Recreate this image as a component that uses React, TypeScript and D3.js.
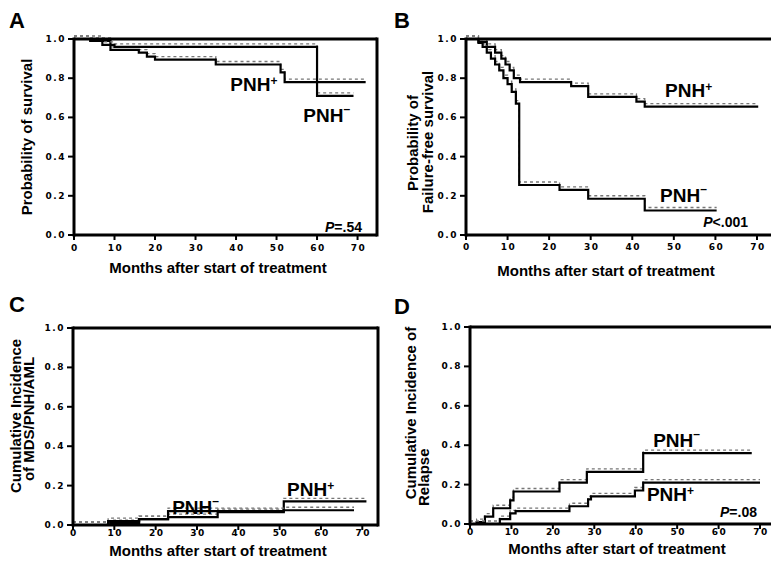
import React from 'react';
import * as d3 from 'd3';

const monthTicks = [0, 10, 20, 30, 40, 50, 60, 70];
const probTicks = [0, 0.2, 0.4, 0.6, 0.8, 1.0];

// A - overall survival
const aPosT = [0, 4, 9, 16, 18, 20, 35, 51, 52, 72];
const aPosS = [1.0, 0.99, 0.945, 0.93, 0.91, 0.895, 0.87, 0.83, 0.78, 0.78];
const aNegT = [0, 7, 10, 60, 69];
const aNegS = [1.0, 0.97, 0.96, 0.71, 0.71];

// B - failure-free survival
const bPosT = [0, 3, 5, 7, 8.5, 9.5, 10.5, 11.5, 13, 25.3, 29.4, 41, 43, 70.3];
const bPosS = [1.0, 0.985, 0.96, 0.93, 0.9, 0.87, 0.84, 0.8, 0.78, 0.76, 0.705, 0.68, 0.655, 0.655];
const bNegT = [0, 3, 4, 5, 6, 7, 8, 9, 10, 11, 12, 12.8, 22.5, 29.4, 43, 60.3];
const bNegS = [1.0, 0.98, 0.96, 0.93, 0.9, 0.87, 0.84, 0.8, 0.77, 0.73, 0.67, 0.255, 0.23, 0.185, 0.125, 0.125];

// C - cumulative incidence MDS/PNH/AML
const cNegT = [0, 8.5, 16, 23, 51, 68];
const cNegS = [0, 0.02, 0.03, 0.07, 0.075, 0.075];
const cPosT = [0, 9, 16, 23, 35, 51, 71];
const cPosS = [0, 0.01, 0.03, 0.04, 0.065, 0.12, 0.12];

// D - cumulative incidence of relapse
const dNegT = [0, 1.6, 3.6, 5.6, 9.7, 10.5, 21.6, 28.2, 41.8, 68];
const dNegS = [0, 0.01, 0.037, 0.08, 0.12, 0.165, 0.21, 0.265, 0.36, 0.36];
const dPosT = [0, 7.2, 9.7, 11, 24, 28.5, 29.2, 39.8, 41.8, 70];
const dPosS = [0, 0.025, 0.054, 0.065, 0.09, 0.125, 0.14, 0.17, 0.21, 0.21];

const FONT = "'Liberation Sans', Arial, sans-serif";
const TICKFONT = "'DejaVu Sans', sans-serif";

const zip = (t: number[], s: number[]) => t.map((v, i) => [v, s[i]] as [number, number]);

type Label = { text: string; sup: string; m: number; v: number };

function Panel (props: any) {
  const { letter, lx, ly, x0, x1, xMax, yTop, yBot, frame, curves, labels,
    pText, px, py, tickDy, titleY, titleX, yTitle } = props;

  const x = d3.scaleLinear().domain([0, xMax]).range([x0, x1]);
  const y = d3.scaleLinear().domain([0, 1]).range([yBot, yTop]);
  const line = d3.line<[number, number]>()
    .x((d) => x(d[0]))
    .y((d) => y(d[1]))
    .curve(d3.curveStepAfter);
  const right = frame ? x1 : 775;

  return (
    <g>
      <text x={lx} y={ly} fontFamily={FONT} fontWeight="bold" fontSize={22}>{letter}</text>

      {/* curves: grey dotted shadow + solid step line */}
      {curves.map((c: [number, number][], i: number) => (
        <g key={i}>
          <path d={line(c) || ''} fill="none" stroke="#777" strokeWidth={1.3}
            strokeDasharray="3,3" transform="translate(0,-3)" />
          <path d={line(c) || ''} fill="none" stroke="#000" strokeWidth={2.2} />
        </g>
      ))}

      {/* frame */}
      <line x1={x0} x2={right} y1={yTop} y2={yTop} stroke="#000" strokeWidth={3} />
      {frame && <line x1={x1} x2={x1} y1={yTop - 1.5} y2={yBot + 1.5} stroke="#000" strokeWidth={3} />}
      <line x1={x0} x2={x0} y1={yTop - 1.5} y2={yBot + 1.5} stroke="#000" strokeWidth={3} />
      <line x1={x0} x2={right} y1={yBot} y2={yBot} stroke="#000" strokeWidth={3} />

      {probTicks.map((t) => (
        <g key={'y' + t}>
          <line x1={x0 - 6} x2={x0} y1={y(t)} y2={y(t)} stroke="#000" strokeWidth={2} />
          <text x={x0 - 8} y={y(t)} textAnchor="end" dominantBaseline="central"
            fontFamily={TICKFONT} fontWeight="bold" fontSize={9} letterSpacing={1.5}>
            {t.toFixed(1)}
          </text>
        </g>
      ))}
      {monthTicks.map((t) => (
        <g key={'x' + t}>
          <line x1={x(t)} x2={x(t)} y1={yBot} y2={yBot + 5} stroke="#000" strokeWidth={2} />
          <text x={x(t) + 1} y={yBot + tickDy} textAnchor="middle" dominantBaseline="central"
            fontFamily={TICKFONT} fontWeight="bold" fontSize={9} letterSpacing={1.5}>
            {t}
          </text>
        </g>
      ))}

      <text x={titleX} y={titleY} textAnchor="middle" fontFamily={FONT} fontWeight="bold" fontSize={15}>
        Months after start of treatment
      </text>
      {yTitle.map((yt: any, i: number) => (
        <text key={i} transform={`translate(${yt.x},${yt.y}) rotate(-90)`} textAnchor={yt.anchor || 'middle'}
          fontFamily={FONT} fontWeight="bold" fontSize={15}>
          {yt.text}
        </text>
      ))}

      {labels.map((l: Label, i: number) => (
        <text key={i} x={x(l.m)} y={y(l.v)} fontFamily={FONT} fontWeight="bold" fontSize={19}>
          {l.text}
          <tspan fontSize={12} dy={l.sup === '+' ? -6 : -9}>{l.sup === '+' ? '+' : '\u2013'}</tspan>
        </text>
      ))}

      {pText && (
        <text x={px} y={py} textAnchor="end" fontFamily={FONT} fontWeight="bold" fontSize={14}>
          <tspan fontStyle="italic">P</tspan>{pText}
        </text>
      )}
    </g>
  );
}

const App = () => {
  return (
    <svg width={771} height={568} style={{ position: 'absolute', left: 0, top: 0, background: '#fff' }}>
      <rect width={771} height={568} fill="#fff" />
      <Panel letter="A" lx={9} ly={28} x0={74} x1={377} xMax={74.8} yTop={39} yBot={235} frame
        curves={[zip(aPosT, aPosS), zip(aNegT, aNegS)]}
        labels={[{ text: 'PNH', sup: '+', m: 38.6, v: 0.735 }, { text: 'PNH', sup: '-', m: 56.6, v: 0.578 }]}
        pText="=.54" px={362} py={232} tickDy={13} titleX={218} titleY={273}
        yTitle={[{ text: 'Probability of survival', x: 32, y: 137 }]} />
      <Panel letter="B" lx={394} ly={28} x0={466} x1={773.6} xMax={74} yTop={39} yBot={235} frame={false}
        curves={[zip(bPosT, bPosS), zip(bNegT, bNegS)]}
        labels={[{ text: 'PNH', sup: '+', m: 47.9, v: 0.704 }, { text: 'PNH', sup: '-', m: 46.7, v: 0.168 }]}
        pText="<.001" px={748} py={227} tickDy={12} titleX={606} titleY={276}
        yTitle={[{ text: 'Probability of', x: 418, y: 143 }, { text: 'Failure-free survival', x: 433, y: 142 }]} />
      <Panel letter="C" lx={9} ly={312} x0={73} x1={378} xMax={73.8} yTop={328} yBot={525} frame
        curves={[zip(cPosT, cPosS), zip(cNegT, cNegS)]}
        labels={[{ text: 'PNH', sup: '-', m: 24, v: 0.056 }, { text: 'PNH', sup: '+', m: 51.8, v: 0.147 }]}
        pText="" px={0} py={0} tickDy={8} titleX={218} titleY={556}
        yTitle={[{ text: 'Cumulative Incidence', x: 21, y: 416 }, { text: 'of MDS/PNH/AML', x: 34, y: 419 }]} />
      <Panel letter="D" lx={394} ly={314} x0={470} x1={776.6} xMax={74} yTop={327} yBot={524} frame={false}
        curves={[zip(dNegT, dNegS), zip(dPosT, dPosS)]}
        labels={[{ text: 'PNH', sup: '-', m: 44.2, v: 0.39 }, { text: 'PNH', sup: '+', m: 42.7, v: 0.117 }]}
        pText="=.08" px={757} py={517} tickDy={8} titleX={617} titleY={554}
        yTitle={[{ text: 'Cumulative Incidence of', x: 416, y: 413 }, { text: 'Relapse', x: 429, y: 506, anchor: 'start' }]} />
    </svg>
  );
};

export default App;
